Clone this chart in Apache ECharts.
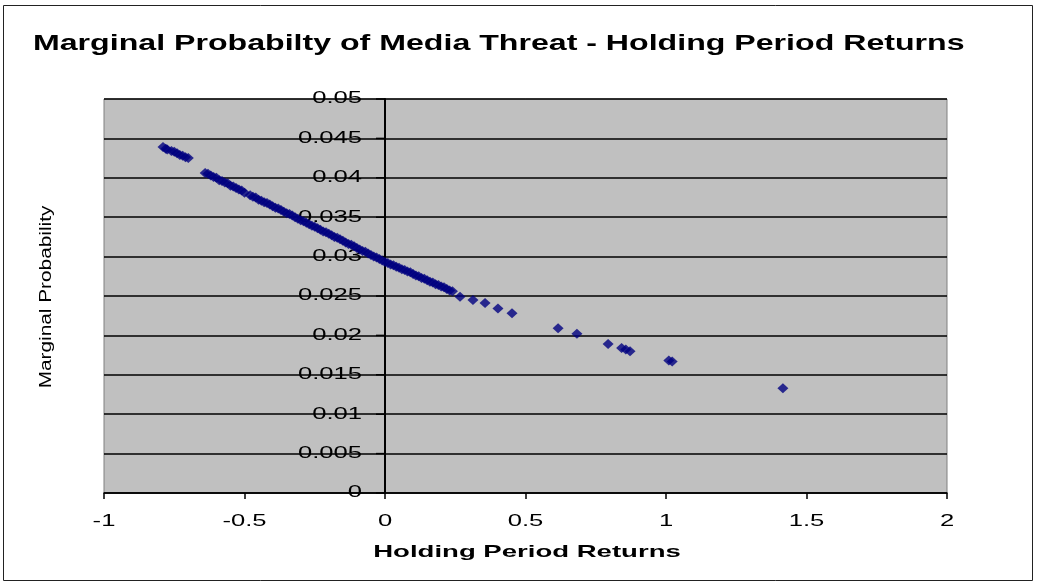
<!DOCTYPE html>
<html>
<head>
<meta charset="utf-8">
<script src="https://cdn.jsdelivr.net/npm/echarts@6/dist/echarts.min.js"></script>
<style>
  html, body { margin: 0; padding: 0; background: #fff; }
  #chart { width: 1037px; height: 584px; }
</style>
</head>
<body>
<div id="chart"></div>
<script>
// holding period returns (x) and marginal probability (y)
var returns = [
  -0.79, -0.78, -0.775, -0.76, -0.75, -0.74, -0.73, -0.72, -0.71, -0.70,
  -0.64, -0.63, -0.62, -0.61, -0.60, -0.59, -0.58, -0.57, -0.56, -0.55,
  -0.54, -0.53, -0.52, -0.51, -0.50, -0.48, -0.47, -0.46, -0.45, -0.44,
  -0.43, -0.42, -0.41, -0.40, -0.39, -0.38, -0.37, -0.36, -0.35, -0.34,
  -0.33, -0.32, -0.31, -0.30, -0.29, -0.28, -0.27, -0.26, -0.25, -0.24,
  -0.23, -0.22, -0.21, -0.20, -0.19, -0.18, -0.17, -0.16, -0.15, -0.14,
  -0.13, -0.12, -0.11, -0.10, -0.09, -0.08, -0.07, -0.06, -0.05, -0.04,
  -0.03, -0.02, -0.01, 0.00, 0.01, 0.02, 0.03, 0.04, 0.05, 0.06,
  0.07, 0.08, 0.09, 0.10, 0.11, 0.12, 0.13, 0.14, 0.15, 0.16,
  0.17, 0.18, 0.19, 0.20, 0.21, 0.22, 0.23, 0.24,
  0.267, 0.313, 0.356, 0.402, 0.452,
  0.616, 0.683, 0.794, 0.842, 0.857, 0.872, 1.01, 1.022, 1.416
];
var probability = [
  0.0439, 0.0437, 0.0436, 0.0434, 0.0433, 0.0431, 0.0429, 0.0428, 0.0426, 0.0425,
  0.0406, 0.0405, 0.0403, 0.0401, 0.0400, 0.0397, 0.0396, 0.0394, 0.0393, 0.0390,
  0.0389, 0.0387, 0.0385, 0.0384, 0.0381, 0.0378, 0.0376, 0.0375, 0.0372, 0.0371,
  0.0369, 0.0368, 0.0366, 0.0364, 0.0362, 0.0361, 0.0359, 0.0357, 0.0355, 0.0354,
  0.0352, 0.0350, 0.0348, 0.0346, 0.0345, 0.0343, 0.0341, 0.0339, 0.0338, 0.0336,
  0.0334, 0.0332, 0.0331, 0.0329, 0.0327, 0.0325, 0.0324, 0.0322, 0.0320, 0.0318,
  0.0316, 0.0315, 0.0313, 0.0311, 0.0309, 0.0307, 0.0306, 0.0304, 0.0302, 0.0300,
  0.0299, 0.0297, 0.0295, 0.0293, 0.0292, 0.0290, 0.0289, 0.0287, 0.0286, 0.0284,
  0.0283, 0.0281, 0.0280, 0.0278, 0.0276, 0.0275, 0.0273, 0.0272, 0.0270, 0.0268,
  0.0267, 0.0265, 0.0264, 0.0262, 0.0261, 0.0259, 0.0257, 0.0256,
  0.0249, 0.0245, 0.0241, 0.0234, 0.0228,
  0.0209, 0.0202, 0.0189, 0.0184, 0.0182, 0.0180, 0.0168, 0.0167, 0.0133
];

// tick labels as the old chart prints them
var xTickLabels = ['-1', '-0.5', '0', '0.5', '1', '1.5', '2'];
var yTickLabels = ['0', '0.005', '0.01', '0.015', '0.02', '0.025', '0.03', '0.035', '0.04', '0.045', '0.05'];

var titleText = 'Marginal Probabilty of Media Threat - Holding Period Returns';
var xName = 'Holding Period Returns';
var yName = 'Marginal Probability';

var points = [];
for (var i = 0; i < returns.length; i++) {
  points.push([returns[i], probability[i]]);
}

// the source picture is stretched sideways, so the texts are too
var stretch = 1.6;

var chart = echarts.init(document.getElementById('chart'));
chart.setOption({
  animation: false,
  grid: {
    left: 104, right: 90, top: 99, bottom: 91,
    show: true,
    backgroundColor: '#c0c0c0',
    borderColor: '#808080',
    borderWidth: 1
  },
  xAxis: {
    type: 'value',
    min: -1, max: 2, interval: 0.5,
    axisLine: { onZero: false, lineStyle: { color: '#000', width: 1.5 } },
    axisTick: { show: true, length: 6, lineStyle: { color: '#000', width: 1.5 } },
    axisLabel: { show: false },
    splitLine: { show: false }
  },
  yAxis: {
    type: 'value',
    min: 0, max: 0.05, interval: 0.005,
    axisLine: { show: true, onZero: true, lineStyle: { color: '#000', width: 2 } },
    axisTick: { show: false },
    axisLabel: { show: false },
    splitLine: { show: true, lineStyle: { color: '#000', width: 1.5 } }
  },
  series: [{
    type: 'scatter',
    symbol: 'diamond',
    symbolSize: [11, 10],
    itemStyle: { color: '#000080' },
    data: points
  }]
});

var g = [
  {
    type: 'rect',
    shape: { x: 3.5, y: 5.5, width: 1029, height: 575 },
    style: { fill: 'none', stroke: '#222', lineWidth: 1 },
    silent: true
  },
  {
    type: 'group', x: 33, y: 44, scaleX: 1.46,
    children: [{
      type: 'text', x: 0, y: 0,
      style: { text: titleText, fill: '#000', font: 'bold 22px Arial, "Liberation Sans"', align: 'left', verticalAlign: 'middle' }
    }]
  },
  {
    type: 'text', x: 527, y: 552, scaleX: 1.62,
    style: { text: xName, fill: '#000', font: 'bold 17px Arial, "Liberation Sans"', align: 'center', verticalAlign: 'middle' }
  },
  {
    type: 'text', x: 47, y: 297, rotation: Math.PI / 2, scaleX: 1.3,
    style: { text: yName, fill: '#000', font: '16px "Liberation Sans Narrow", Arial', align: 'center', verticalAlign: 'middle' }
  }
];

var zero = chart.convertToPixel({ xAxisIndex: 0, yAxisIndex: 0 }, [0, 0]);
yTickLabels.forEach(function (t) {
  var p = chart.convertToPixel({ xAxisIndex: 0, yAxisIndex: 0 }, [0, parseFloat(t)]);
  g.push({ type: 'line', shape: { x1: zero[0] - 9, y1: p[1], x2: zero[0], y2: p[1] }, style: { stroke: '#000', lineWidth: 1.5 } });
  g.push({
    type: 'text', x: zero[0] - 23, y: p[1], scaleX: stretch,
    style: { text: t, fill: '#000', font: '16px Arial, "Liberation Sans"', align: 'right', verticalAlign: 'middle' }
  });
});
xTickLabels.forEach(function (t) {
  var p = chart.convertToPixel({ xAxisIndex: 0, yAxisIndex: 0 }, [parseFloat(t), 0]);
  g.push({
    type: 'text', x: p[0], y: p[1] + 29, scaleX: stretch,
    style: { text: t, fill: '#000', font: '16px Arial, "Liberation Sans"', align: 'center', verticalAlign: 'middle' }
  });
});

chart.setOption({ graphic: g });
</script>
</body>
</html>
